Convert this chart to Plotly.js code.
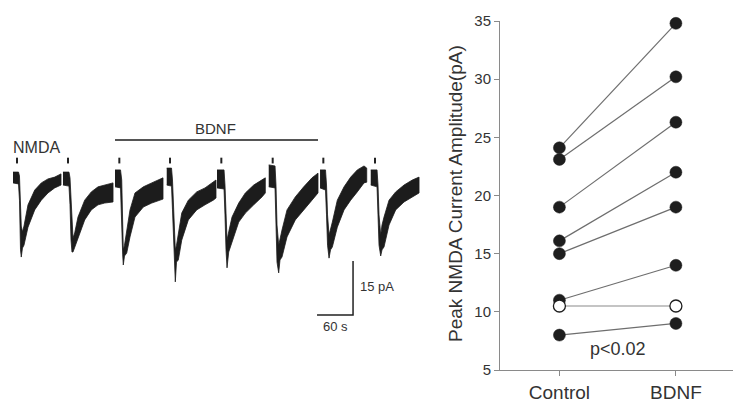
<!DOCTYPE html>
<html>
<head>
<meta charset="utf-8">
<script src="https://cdn.plot.ly/plotly-3.0.1.min.js"></script>
<style>
  html, body { margin: 0; padding: 0; background: #fff; }
  #chart { width: 741px; height: 410px; }
</style>
</head>
<body>
<div id="chart"></div>
<script>
// Right panel: peak NMDA current per cell, before and after BDNF (pA)
const groups     = ['Control', 'BDNF'];
const controlAmp = [24.1, 23.1, 19.0, 16.1, 15.0, 11.0, 10.5, 8.0];
const bdnfAmp    = [34.8, 30.2, 26.3, 22.0, 19.0, 14.0, 10.5, 9.0];
const openCell   = [false, false, false, false, false, false, true, false];
const pText      = 'p<0.02';

// Left panel: whole-cell current trace, read as the upper / lower edge of the
// noisy band (time in s, current in pA). null separates the 8 NMDA responses.
const sweepT = [
  5.0, 14.2, 15.8, 17.5, 18.8, 20.8, 23.3, 30.0, 41.2, 52.2, 63.3, 74.5, 85.0, null,
  88.3, 98.3, 100.0, 101.7, 103.3, 105.0, 107.8, 113.3, 124.5, 135.5, 146.7, 157.8, 171.7, null,
  175.0, 184.2, 186.2, 187.8, 188.8, 190.8, 194.5, 200.0, 208.3, 222.2, 236.2, 250.0, 255.0, null,
  261.2, 269.2, 270.8, 273.3, 275.5, 277.5, 280.5, 286.2, 297.2, 311.2, 325.0, 338.8, 343.3, null,
  345.0, 356.7, 358.3, 360.0, 361.7, 364.5, 370.0, 381.2, 392.2, 406.2, 420.0, 425.5, null,
  431.2, 441.7, 443.3, 445.0, 447.8, 450.0, 453.3, 461.7, 475.5, 489.5, 503.3, 513.3, null,
  516.7, 525.8, 527.5, 529.2, 531.7, 534.2, 537.2, 545.5, 556.7, 567.8, 578.8, 590.0, 594.5, null,
  601.2, 611.7, 613.3, 615.0, 617.8, 620.0, 623.3, 631.7, 642.8, 656.7, 670.5, 681.7
];
const sweepHi = [
  2.2, 2.2, 1.1, -5.6, -12.8, -14.4, -12.8, -6.9, -2.8, -0.8, 0.3, 0.8, 1.7, null,
  2.2, 2.2, 0.6, -6.9, -13.9, -16.1, -14.7, -10.3, -5.6, -3.3, -1.9, -1.4, -0.8, null,
  2.8, 2.8, 0.0, -11.1, -19.4, -18.1, -13.9, -8.3, -3.6, -1.9, -0.8, 0.3, 0.6, null,
  3.3, 3.3, 0.0, -11.1, -19.4, -18.1, -14.7, -9.2, -5.6, -3.3, -2.2, -0.6, 0.0, null,
  2.8, 2.8, -1.4, -9.7, -16.7, -14.4, -10.3, -6.4, -3.6, -1.4, 0.0, 0.6, null,
  4.2, 3.9, -1.4, -12.5, -18.1, -16.7, -13.9, -8.3, -4.7, -1.9, 0.6, 1.9, null,
  2.8, 2.8, -1.4, -9.7, -15.3, -13.3, -11.7, -5.6, -1.9, 0.8, 2.8, 3.9, 3.3, null,
  2.8, 2.8, -1.4, -9.7, -15.3, -12.5, -10.3, -5.6, -3.3, -1.4, 0.0, 0.8
];
const sweepLo = [
  -0.8, -1.1, -5.6, -19.4, -21.4, -18.9, -18.1, -13.1, -8.3, -5.6, -3.6, -2.2, -1.4, null,
  -1.4, -1.7, -6.9, -16.7, -20.0, -20.0, -18.6, -16.1, -11.1, -8.3, -6.9, -6.4, -6.1, null,
  -1.9, -2.2, -8.3, -20.8, -23.6, -21.1, -20.3, -15.8, -10.3, -7.5, -6.4, -5.6, -5.3, null,
  -1.4, -1.7, -8.3, -20.8, -28.3, -22.8, -22.2, -16.7, -11.1, -8.3, -6.9, -5.6, -5.0, null,
  -2.2, -2.5, -9.7, -19.4, -24.4, -20.0, -17.2, -11.7, -9.2, -6.9, -4.7, -3.6, null,
  -1.9, -2.2, -11.1, -22.8, -25.8, -22.2, -21.4, -15.8, -11.1, -8.3, -5.6, -3.6, null,
  -2.2, -2.8, -9.7, -18.1, -21.7, -19.4, -18.6, -13.1, -8.3, -5.6, -3.3, -0.8, -0.6, null,
  -1.4, -1.9, -9.7, -18.1, -21.1, -19.4, -18.6, -12.5, -8.3, -6.1, -4.7, -3.6
];
const nmdaOnsets = [11.7, 96.7, 182.2, 266.7, 352.2, 437.8, 522.2, 608.3];
const bdnfSpan   = [175.0, 513.3];
const scaleTime  = 60;   // s
const scaleCurr  = 15;   // pA

const W = 741, H = 410;
const fx = px => px / W;
const fy = py => 1 - py / H;
const FONT = 'Liberation Sans, Arial, Helvetica, sans-serif';
const TXT = '#333333';

// build one closed band per response: upper edge forward, lower edge back
function bandPolygon(t, hi, lo) {
  const xs = [], ys = [];
  let seg = [];
  const flush = () => {
    if (!seg.length) return;
    seg.forEach(i => { xs.push(t[i]); ys.push(hi[i]); });
    seg.slice().reverse().forEach(i => { xs.push(t[i]); ys.push(lo[i]); });
    xs.push(null); ys.push(null);
    seg = [];
  };
  t.forEach((v, i) => { if (v === null) flush(); else seg.push(i); });
  flush();
  return { xs, ys };
}

const band = bandPolygon(sweepT, sweepHi, sweepLo);
const traces = [];

traces.push({
  x: band.xs, y: band.ys, xaxis: 'x2', yaxis: 'y2',
  type: 'scatter', mode: 'lines', fill: 'toself',
  fillcolor: '#1c1c1c', line: { color: '#1c1c1c', width: 0.8 },
  hoverinfo: 'skip',
});

// NMDA application marks
const tickX = [], tickY = [];
nmdaOnsets.forEach(t => { tickX.push(t, t, null); tickY.push(4.6, 6.2, null); });
traces.push({
  x: tickX, y: tickY, xaxis: 'x2', yaxis: 'y2',
  type: 'scatter', mode: 'lines', line: { color: '#222', width: 2 },
});

// BDNF bar
traces.push({
  x: bdnfSpan, y: [11.1, 11.1], xaxis: 'x2', yaxis: 'y2',
  type: 'scatter', mode: 'lines', line: { color: '#555', width: 2 },
});

// scale bar
const sbX = 571.7, sbY = -37.5;
traces.push({
  x: [sbX - scaleTime, sbX, sbX], y: [sbY, sbY, sbY + scaleCurr],
  xaxis: 'x2', yaxis: 'y2',
  type: 'scatter', mode: 'lines', line: { color: '#222', width: 1.5 },
});

// paired cells
controlAmp.forEach((c, i) => {
  const open = openCell[i];
  traces.push({
    x: [0, 1], y: [c, bdnfAmp[i]],
    type: 'scatter', mode: 'lines+markers', cliponaxis: false,
    line: { color: open ? '#8a8a8a' : '#6e6e6e', width: 1.2 },
    marker: {
      size: 12, color: open ? '#ffffff' : '#1e1e1e',
      line: { color: '#1e1e1e', width: open ? 1.3 : 0.5 },
    },
  });
});

const layout = {
  width: W, height: H,
  margin: { l: 0, r: 0, t: 0, b: 0 },
  paper_bgcolor: '#fff', plot_bgcolor: '#fff',
  showlegend: false,
  font: { family: FONT, color: TXT },
  xaxis: {
    domain: [fx(500), fx(733)], range: [-0.51, 1.49],
    tickvals: [0, 1], ticktext: groups,
    showline: true, linecolor: '#8a8a8a', linewidth: 1,
    ticks: 'outside', ticklen: 5, tickcolor: '#8a8a8a',
    tickfont: { size: 19, color: TXT },
    showgrid: false, zeroline: false, anchor: 'y', fixedrange: true,
  },
  yaxis: {
    domain: [fy(370), fy(21)], range: [5, 35], tick0: 5, dtick: 5,
    showline: true, linecolor: '#8a8a8a', linewidth: 1,
    ticks: 'outside', ticklen: 5, tickcolor: '#8a8a8a',
    tickfont: { size: 15, color: TXT },
    showgrid: false, zeroline: false, anchor: 'x', fixedrange: true,
  },
  xaxis2: { domain: [fx(10), fx(420)], range: [0, 683.3], visible: false, anchor: 'y2' },
  yaxis2: { domain: [fy(340), fy(100)], range: [-44.44, 22.22], visible: false, anchor: 'x2' },
  annotations: [
    { xref: 'paper', yref: 'paper', x: fx(455), y: fy(194), textangle: -90,
      text: 'Peak NMDA Current Amplitude(pA)', showarrow: false,
      font: { size: 19, color: TXT } },
    { xref: 'x', yref: 'y', x: 0.5, y: 6.8, text: pText, showarrow: false,
      font: { size: 18, color: TXT } },
    { xref: 'x2', yref: 'y2', x: 44.2, y: 9.0, text: 'NMDA', showarrow: false,
      font: { size: 16, color: TXT } },
    { xref: 'x2', yref: 'y2', x: 343.3, y: 14.4, text: 'BDNF', showarrow: false,
      font: { size: 15, color: TXT } },
    { xref: 'x2', yref: 'y2', x: 580, y: -29.7, xanchor: 'left', text: '15 pA',
      showarrow: false, font: { size: 13, color: TXT } },
    { xref: 'x2', yref: 'y2', x: 542.5, y: -40.8, text: '60 s',
      showarrow: false, font: { size: 13, color: TXT } },
  ],
};

Plotly.newPlot('chart', traces, layout, { displayModeBar: false, staticPlot: true });
</script>
</body>
</html>
